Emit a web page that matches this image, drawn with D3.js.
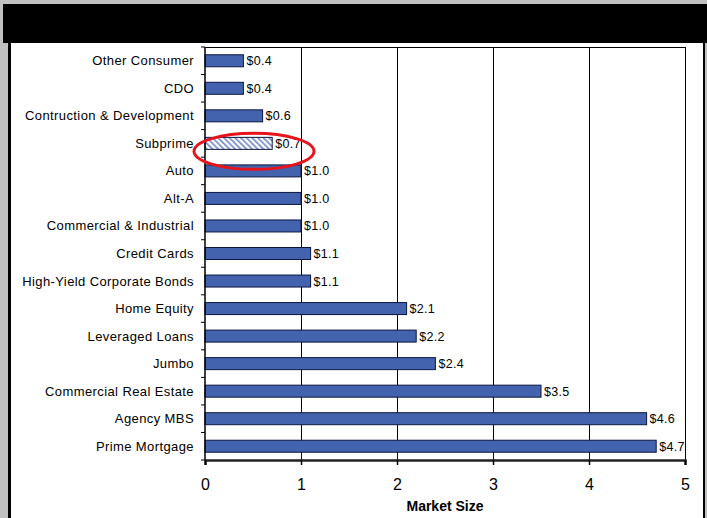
<html>
<head>
  <script src="https://d3js.org/d3.v7.min.js"></script>
  <style>
    body { margin: 0; background: #c0c0c0; }
    text { font-family: "Liberation Sans", Arial, sans-serif; }
  </style>
</head>
<body>
<script>
var categories = ["Other Consumer", "CDO", "Contruction & Development", "Subprime", "Auto", "Alt-A",
  "Commercial & Industrial", "Credit Cards", "High-Yield Corporate Bonds", "Home Equity",
  "Leveraged Loans", "Jumbo", "Commercial Real Estate", "Agency MBS", "Prime Mortgage"];
var values = [0.4, 0.4, 0.6, 0.7, 1.0, 1.0, 1.0, 1.1, 1.1, 2.1, 2.2, 2.4, 3.5, 4.6, 4.7];
var valueLabels = ["$0.4", "$0.4", "$0.6", "$0.7", "$1.0", "$1.0", "$1.0", "$1.1", "$1.1",
  "$2.1", "$2.2", "$2.4", "$3.5", "$4.6", "$4.7"];
var xTicks = [0, 1, 2, 3, 4, 5];
var highlight = "Subprime";

var width = 707, height = 518;
var plotL = 205, plotR = 685, plotT = 47, plotB = 460;

var svg = d3.select("body").append("svg")
    .attr("width", width)
    .attr("height", height);

// window frame
svg.append("rect").attr("x", 0).attr("y", 0).attr("width", width).attr("height", height).attr("fill", "#c0c0c0");
svg.append("rect").attr("x", 8).attr("y", 40).attr("width", 697).attr("height", 478).attr("fill", "#000");
svg.append("rect").attr("x", 11).attr("y", 40).attr("width", 692).attr("height", 478).attr("fill", "#fff");
svg.append("rect").attr("x", 3).attr("y", 4).attr("width", 704).attr("height", 39).attr("fill", "#000");

var x = d3.scaleLinear().domain([0, 5]).range([plotL, plotR]);
var y = d3.scaleBand().domain(categories).range([plotT, plotB]);

var defs = svg.append("defs");
var pat = defs.append("pattern")
    .attr("id", "hatch")
    .attr("patternUnits", "userSpaceOnUse")
    .attr("width", 4).attr("height", 4)
    .attr("patternTransform", "rotate(-45)");
pat.append("rect").attr("width", 4).attr("height", 4).attr("fill", "#fff");
pat.append("rect").attr("width", 1.6).attr("height", 4).attr("fill", "#6f86c6");

// gridlines
svg.append("g").selectAll("line")
  .data(xTicks.slice(1))
  .enter().append("line")
    .attr("x1", d => x(d) + 0.5).attr("x2", d => x(d) + 0.5)
    .attr("y1", plotT).attr("y2", plotB)
    .attr("stroke", "#000").attr("stroke-width", 1);
svg.append("line").attr("x1", plotL).attr("x2", plotR).attr("y1", plotT + 0.5).attr("y2", plotT + 0.5)
  .attr("stroke", "#000");

// bars
var barH = 12;
svg.append("g").selectAll("rect")
  .data(categories)
  .enter().append("rect")
    .attr("x", x(0))
    .attr("y", d => y(d) + y.bandwidth() / 2 - barH / 2)
    .attr("width", (d, i) => x(values[i]) - x(0))
    .attr("height", barH)
    .attr("fill", d => d === highlight ? "url(#hatch)" : "#4463ae")
    .attr("stroke", "#0b1640")
    .attr("stroke-width", 1);

// value labels
svg.append("g").selectAll("text")
  .data(categories)
  .enter().append("text")
    .attr("x", (d, i) => x(values[i]) + 3)
    .attr("y", d => y(d) + y.bandwidth() / 2 + 4.5)
    .attr("font-size", 12.5)
    .attr("letter-spacing", 0.3)
    .attr("fill", "#000")
    .text((d, i) => valueLabels[i]);

// y axis
var yAxis = svg.append("g").attr("transform", "translate(" + plotL + ",0)");
yAxis.append("line").attr("x1", 0).attr("x2", 0).attr("y1", plotT).attr("y2", plotB)
  .attr("stroke", "#000").attr("stroke-width", 1.5);
yAxis.selectAll(".tk")
  .data(categories.concat(["end"]))
  .enter().append("line")
    .attr("x1", -4).attr("x2", 0)
    .attr("y1", (d, i) => plotT + i * y.step())
    .attr("y2", (d, i) => plotT + i * y.step())
    .attr("stroke", "#000");
yAxis.selectAll("text")
  .data(categories)
  .enter().append("text")
    .attr("x", -11)
    .attr("y", d => y(d) + y.bandwidth() / 2 + 4.5)
    .attr("text-anchor", "end")
    .attr("font-size", 13)
    .attr("letter-spacing", 0.4)
    .text(d => d);

// x axis
var xAxis = svg.append("g").attr("transform", "translate(0," + plotB + ")")
  .call(d3.axisBottom(x).tickValues(xTicks).tickSize(5).tickFormat(d3.format("d")));
xAxis.select(".domain").attr("stroke", "#222").attr("stroke-width", 2.5);
xAxis.selectAll(".tick line").attr("stroke", "#000").attr("stroke-width", 1.5);
xAxis.selectAll(".tick text")
  .attr("font-family", "Liberation Sans, Arial, sans-serif")
  .attr("font-size", 16).attr("y", 19).attr("dy", "0.71em").attr("fill", "#000");

svg.append("text")
  .attr("x", (plotL + plotR) / 2)
  .attr("y", 511)
  .attr("text-anchor", "middle")
  .attr("font-size", 14)
  .attr("font-weight", "bold")
  .text("Market Size");

// red circle drawn around highlighted bar
var cx = x(0.5), cy = y(highlight) + y.bandwidth() / 2;
svg.append("ellipse")
  .attr("cx", cx + 1).attr("cy", cy + 8)
  .attr("rx", 60).attr("ry", 18)
  .attr("fill", "none")
  .attr("stroke", "#e8141b")
  .attr("stroke-width", 3);
</script>
</body>
</html>
